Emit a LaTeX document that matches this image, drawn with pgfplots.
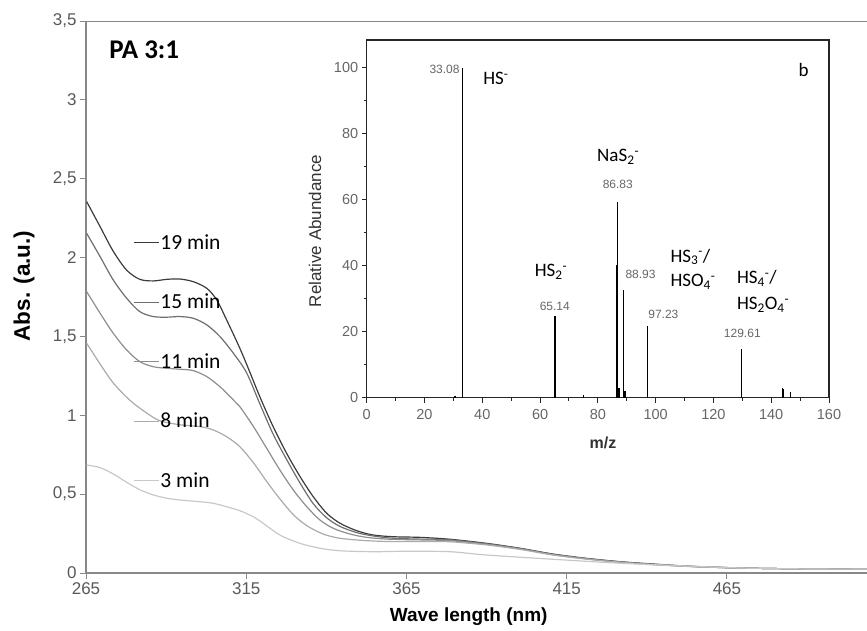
\documentclass[border=0pt]{standalone}
\usepackage{fontspec}
\setmainfont{Liberation Sans}
\newfontfamily\calibri{Carlito}
\usepackage{pgfplots}
\pgfplotsset{compat=1.18}

\definecolor{c19}{HTML}{3C3C3C}
\definecolor{c15}{HTML}{6E6E6E}
\definecolor{c11}{HTML}{8E8E8E}
\definecolor{c8}{HTML}{ABABAB}
\definecolor{c3}{HTML}{C8C8C8}
\definecolor{tickgray}{HTML}{595959}
\definecolor{axisgray}{HTML}{888888}

\begin{document}
\begin{tikzpicture}[x=1pt,y=1pt]
\path[use as bounding box] (0,0) rectangle (867,630);

% main UV-vis panel
\begin{axis}[
    at={(86pt,57pt)}, anchor=south west,
    scale only axis, width=781pt, height=552pt,
    xmin=265, xmax=508.7, ymin=0, ymax=3.5,
    axis lines*=left,
    axis line style={axisgray, line width=1.3pt},
    xtick={265,315,...,465},
    ytick={0,0.5,...,3.5},
    tick align=outside, major tick length=6pt,
    every tick/.style={axisgray, line width=1pt},
    /pgf/number format/assume math mode=true,
    ticklabel style={font=\fontsize{17}{20}\selectfont, text=tickgray},
    y tick label style={/pgf/number format/.cd, fixed, use comma, precision=1},
    xlabel={\textbf{Wave length (nm)}},
    ylabel={\textbf{Abs. (a.u.)}},
    x label style={font=\fontsize{19}{22}\selectfont, at={(rel axis cs:0.49,-0.0797)}, anchor=center},
    y label style={font=\fontsize{22.5}{26}\selectfont, at={(rel axis cs:-0.0794,0.52)}, anchor=center},
    legend image code/.code={\draw[#1, line width=1.2pt] (0pt,0pt) -- (25pt,0pt);},
    legend style={at={(rel axis cs:0.0602,0.3828)}, anchor=west, draw=none, fill=none,
        inner sep=0pt, font=\calibri\fontsize{21.5}{25}\selectfont, row sep=44.5pt,
        nodes={inner sep=1pt, text height=13pt, text depth=0pt}},
    legend cell align=left,
]
\draw[axisgray, line width=1.3pt] (rel axis cs:0,1) -- (rel axis cs:1,1);

\addplot[c19, line width=1.2pt, smooth] table {
265.2 2.355
269.4 2.196
273.5 2.040
277.7 1.920
281.8 1.862
286.0 1.852
290.2 1.862
294.3 1.864
298.5 1.847
302.7 1.805
305.8 1.731
308.9 1.604
313.0 1.425
316.2 1.270
319.3 1.115
323.4 0.928
327.6 0.759
331.8 0.611
335.9 0.484
340.1 0.379
344.3 0.315
349.5 0.268
354.6 0.241
360.9 0.230
369.2 0.226
378.6 0.214
390.0 0.188
400.4 0.157
410.8 0.120
421.2 0.093
431.6 0.072
442.0 0.057
452.4 0.044
462.8 0.036
473.2 0.030
494.0 0.025
508.7 0.025
};
\addlegendentry{19 min}

\addplot[c15, line width=1.2pt, smooth] table {
265.2 2.154
269.4 2.006
273.5 1.858
277.7 1.742
281.8 1.657
286.0 1.626
290.2 1.622
294.3 1.626
298.5 1.615
302.7 1.573
306.8 1.499
311.0 1.393
315.1 1.270
319.3 1.070
323.4 0.880
327.6 0.720
331.8 0.570
335.9 0.440
340.1 0.350
344.3 0.295
349.5 0.256
354.6 0.235
360.9 0.220
369.2 0.215
378.6 0.210
390.0 0.185
400.4 0.155
410.8 0.118
421.2 0.091
431.6 0.070
442.0 0.055
452.4 0.043
462.8 0.035
473.2 0.030
494.0 0.025
508.7 0.025
};
\addlegendentry{15 min}

\addplot[c11, line width=1.2pt, smooth] table {
265.2 1.784
269.4 1.647
273.5 1.520
277.7 1.414
281.8 1.340
286.0 1.308
290.2 1.298
294.3 1.292
298.5 1.283
302.7 1.245
306.8 1.181
311.0 1.097
313.0 1.055
317.2 0.930
321.4 0.790
325.5 0.653
329.7 0.526
333.9 0.420
338.0 0.336
342.2 0.283
347.4 0.247
352.6 0.226
359.9 0.214
369.2 0.210
378.6 0.205
390.0 0.182
400.4 0.153
410.8 0.116
421.2 0.090
431.6 0.069
442.0 0.054
452.4 0.043
462.8 0.035
473.2 0.030
494.0 0.025
508.7 0.025
};
\addlegendentry{11 min}

\addplot[c8, line width=1.2pt, smooth] table {
265.2 1.457
269.4 1.325
273.5 1.205
278.7 1.095
283.9 1.015
288.1 0.965
294.3 0.940
300.6 0.928
304.7 0.907
308.9 0.864
313.0 0.801
317.2 0.700
321.4 0.580
325.5 0.470
329.7 0.370
333.9 0.300
339.0 0.247
344.3 0.220
352.6 0.205
360.9 0.199
369.2 0.200
378.6 0.198
390.0 0.178
400.4 0.150
410.8 0.114
421.2 0.088
431.6 0.068
442.0 0.053
452.4 0.042
462.8 0.035
473.2 0.030
494.0 0.025
508.7 0.025
};
\addlegendentry{8 min}

\addplot[c3, line width=1.2pt, smooth] table {
265.2 0.685
269.4 0.668
273.5 0.628
277.7 0.575
281.8 0.528
286.0 0.495
290.2 0.474
294.3 0.463
300.6 0.452
304.7 0.442
308.9 0.420
313.0 0.395
317.2 0.357
319.3 0.330
325.5 0.241
331.8 0.188
338.0 0.157
344.3 0.141
354.6 0.135
365.1 0.138
378.6 0.135
390.0 0.114
410.8 0.087
431.6 0.062
452.4 0.044
462.8 0.036
473.2 0.030
494.0 0.025
508.7 0.025
};
\addlegendentry{3 min}

\node[anchor=west, inner sep=0pt, font=\calibri\bfseries\fontsize{27}{30}\selectfont]
    at (axis cs:272.2,3.32) {PA 3:1};
\end{axis}

% inset mass spectrum
\begin{axis}[
    at={(366.7pt,232.3pt)}, anchor=south west,
    scale only axis, width=462.3pt, height=357.7pt,
    xmin=0, xmax=160, ymin=0, ymax=108.4,
    axis line style={black!85, line width=1.2pt},
    xtick={0,20,...,160}, ytick={0,20,...,100},
    minor tick num=1, tick pos=left, tick align=outside,
    major tick length=5pt, minor tick length=3pt,
    every tick/.style={black!85, line width=1pt},
    /pgf/number format/assume math mode=true,
    ticklabel style={font=\fontsize{14.5}{17}\selectfont, text=black!60},
    x tick label style={yshift=-3pt},
    xlabel={m/z}, ylabel={Relative Abundance},
    x label style={font=\bfseries\fontsize{16}{18}\selectfont, text=black!80, at={(rel axis cs:0.511,-0.127)}, anchor=center},
    y label style={font=\fontsize{17}{20}\selectfont, text=black!80, at={(rel axis cs:-0.112,0.466)}, anchor=center},
    clip=false,
]
\addplot[ycomb, black, line width=1.4pt, mark=none] table {
30.5 0.5
33.08 100
65.14 24.8
75.0 0.8
86.5 40.2
86.83 59.4
87.3 3.0
88.93 32.6
89.4 2.0
97.23 21.8
129.61 14.7
143.9 2.8
144.3 2.5
146.7 1.8
};

\begin{scope}[every node/.style={inner sep=0pt, text=black!60, font=\fontsize{12}{14}\selectfont}]
\node[anchor=east] at (axis cs:32.2,99.4) {33.08};
\node at (axis cs:65.1,27.8) {65.14};
\node at (axis cs:86.9,64.7) {86.83};
\node[anchor=west] at (axis cs:89.5,37.4) {88.93};
\node[anchor=west] at (axis cs:97.4,25.3) {97.23};
\node at (axis cs:130.0,19.5) {129.61};
\end{scope}

\begin{scope}[every node/.style={inner sep=0pt, anchor=west, font=\calibri\fontsize{19}{22}\selectfont}]
\node at (axis cs:40.3,96.8) {HS\textsuperscript{-}};
\node at (axis cs:58.1,38.2) {HS\textsubscript{2}\textsuperscript{-}};
\node at (axis cs:79.7,73.0) {NaS\textsubscript{2}\textsuperscript{-}};
\node at (axis cs:105.1,42.7) {HS\textsubscript{3}\textsuperscript{-}/};
\node at (axis cs:105.1,35.2) {HSO\textsubscript{4}\textsuperscript{-}};
\node at (axis cs:128.1,36.2) {HS\textsubscript{4}\textsuperscript{-}/};
\node at (axis cs:128.1,28.1) {HS\textsubscript{2}O\textsubscript{4}\textsuperscript{-}};
\node[anchor=center] at (axis cs:151.2,99.3) {b};
\end{scope}
\end{axis}
\end{tikzpicture}
\end{document}
